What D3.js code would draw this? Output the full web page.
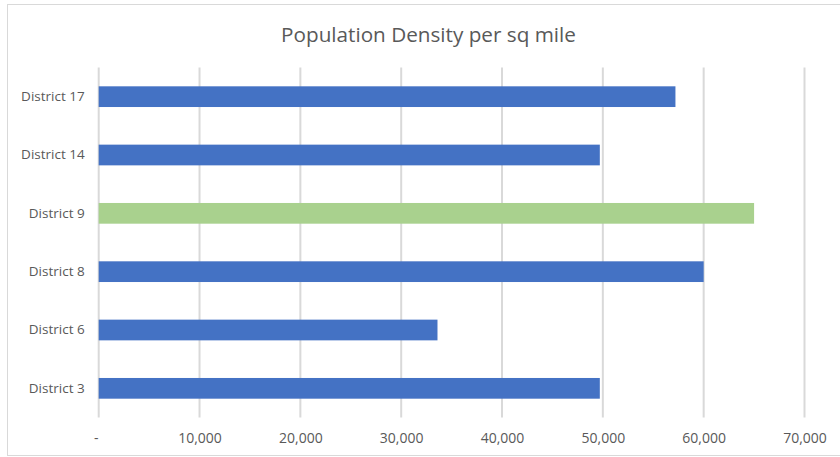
<!DOCTYPE html>
<html>
<head>
<meta charset="utf-8">
<script src="https://cdn.jsdelivr.net/npm/d3@7"></script>
<style>
  html, body { margin: 0; padding: 0; background: #fff; }
  svg { display: block; }
</style>
</head>
<body>
<svg id="chart" width="840" height="457"></svg>
<script>
const title = "Population Density per sq mile";
const categories = ["District 17", "District 14", "District 9", "District 8", "District 6", "District 3"];
const values = [57200, 49700, 65000, 60000, 33600, 49700];
const highlighted = ["District 9"];
const xTicks = [0, 10000, 20000, 30000, 40000, 50000, 60000, 70000];

const svg = d3.select("#chart");
const W = 840, H = 457;
const margin = { left: 98.7, right: 35.5, top: 67.5, bottom: 39.5 };
const font = "'Open Sans', 'Noto Sans', sans-serif";
const textColor = "#595959";

// chart border
svg.append("rect")
  .attr("x", 7.5).attr("y", 4.5)
  .attr("width", 840).attr("height", 451)
  .attr("fill", "#fff")
  .attr("stroke", "#d9d9d9").attr("stroke-width", 1);

const x = d3.scaleLinear().domain([0, 70000]).range([margin.left, W - margin.right]);
const y = d3.scaleBand().domain(categories)
  .range([margin.top, H - margin.bottom])
  .paddingInner(0.645).paddingOuter(0.3225);

// gridlines
svg.append("g").selectAll("line").data(xTicks).join("line")
  .attr("x1", d => x(d)).attr("x2", d => x(d))
  .attr("y1", margin.top).attr("y2", H - margin.bottom)
  .attr("stroke", "#d9d9d9").attr("stroke-width", 2);

// bars
svg.append("g").selectAll("rect").data(categories).join("rect")
  .attr("x", x(0))
  .attr("y", d => y(d))
  .attr("width", (d, i) => x(values[i]) - x(0))
  .attr("height", y.bandwidth())
  .attr("fill", d => highlighted.includes(d) ? "#A9D18E" : "#4472C4");

// x axis
const xAxis = d3.axisBottom(x).tickValues(xTicks).tickSize(0)
  .tickFormat(d => d === 0 ? "-" : d3.format(",")(d));
const gx = svg.append("g").attr("transform", `translate(0,${H - margin.bottom})`).call(xAxis);
gx.select(".domain").remove();
gx.selectAll("text")
  .attr("y", 16)
  .attr("dx", d => d === 0 ? -3 : 0)
  .attr("fill", textColor)
  .style("font-family", font).style("font-size", "14px");

// y axis
const yAxis = d3.axisLeft(y).tickSize(0);
const gy = svg.append("g").attr("transform", `translate(${margin.left},0)`).call(yAxis);
gy.select(".domain").remove();
gy.selectAll("text")
  .attr("x", -14)
  .attr("fill", textColor)
  .style("font-family", font).style("font-size", "13.5px");

// title
svg.append("text")
  .attr("x", 428.5).attr("y", 41.5)
  .attr("text-anchor", "middle")
  .attr("fill", textColor)
  .style("font-family", font).style("font-size", "20.7px")
  .text(title);
</script>
</body>
</html>
